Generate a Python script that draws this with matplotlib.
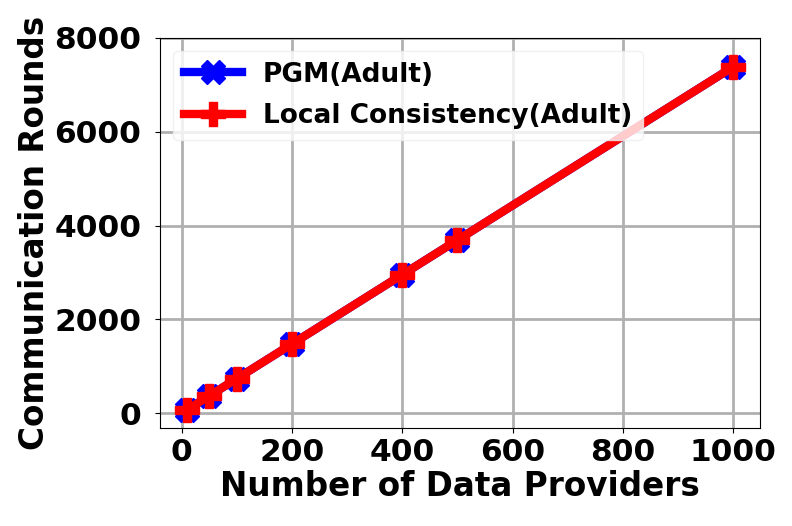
import matplotlib
matplotlib.use("Agg")
import matplotlib.pyplot as plt

providers = [10, 50, 100, 200, 400, 500, 1000]
pgm_rounds = [74, 369, 738, 1476, 2952, 3690, 7380]
local_rounds = [74, 369, 738, 1476, 2952, 3690, 7380]

fig, ax = plt.subplots(figsize=(7.92, 5.26), dpi=100)
fig.subplots_adjust(left=0.202, right=0.96, top=0.928, bottom=0.186)

ax.plot(providers, pgm_rounds, color='blue', marker='X', markersize=17,
        linewidth=6, label='PGM(Adult)')
ax.plot(providers, local_rounds, color='red', marker='P', markersize=17,
        linewidth=6, label='Local Consistency(Adult)')

ax.set_ylim(-320, 8000)
ax.set_yticks([0, 2000, 4000, 6000, 8000])
ax.set_xticks([0, 200, 400, 600, 800, 1000])
ax.grid(True, color='#b0b0b0', linewidth=2)
ax.set_axisbelow(True)
ax.tick_params(axis='y', pad=10)

for lbl in ax.get_xticklabels() + ax.get_yticklabels():
    lbl.set_fontsize(22.5)
    lbl.set_fontweight('bold')

ax.set_xlabel('Number of Data Providers', fontsize=23.5, fontweight='bold', labelpad=2)
ax.set_ylabel('Communication Rounds', fontsize=23.5, fontweight='bold', labelpad=2)
ax.legend(loc='upper left', prop={'size': 19, 'weight': 'bold'},
          handlelength=2.2, labelspacing=0.6, edgecolor='0.93')

fig.savefig('out.png')
